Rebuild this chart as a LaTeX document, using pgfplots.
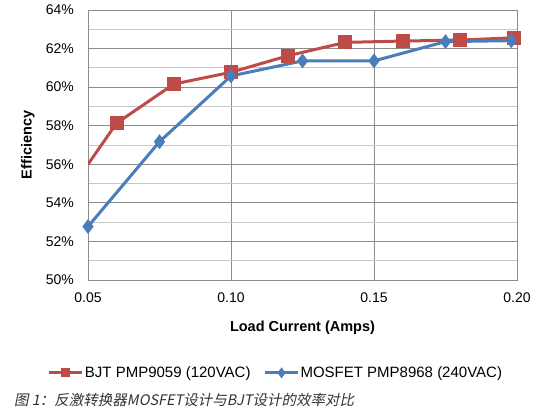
\documentclass[border=0pt]{standalone}
\usepackage{fontspec}
\setmainfont{Liberation Sans}
\newfontfamily\cjk[FakeSlant=0.2]{Noto Sans CJK SC}
\usepackage{pgfplots}
\pgfplotsset{compat=1.18}

\definecolor{bjtred}{HTML}{BE4B48}
\definecolor{mosblue}{HTML}{4A7EBB}
\definecolor{majgrid}{HTML}{8C8C8C}
\definecolor{mingrid}{HTML}{C8C8C8}

\begin{document}
\begin{tikzpicture}
\useasboundingbox (0pt,0pt) rectangle (551pt,409pt);
\begin{axis}[
    at={(88pt,129pt)}, anchor=south west,
    scale only axis, width=429pt, height=270pt,
    /pgf/number format/assume math mode=true,
    xmin=0.05, xmax=0.20, ymin=50, ymax=64,
    xtick={0.05,0.10,0.15,0.20},
    ytick={50,52,...,64},
    minor ytick={51,53,...,63},
    xticklabel={\pgfmathprintnumber[fixed,fixed zerofill,precision=2]{\tick}},
    yticklabel={\pgfmathprintnumber[fixed,precision=0]{\tick}\%},
    major tick length=0pt, minor tick length=0pt,
    tick label style={font=\fontsize{14}{16}\selectfont},
    xticklabel style={inner sep=0pt, anchor=north, yshift=-13pt},
    yticklabel style={inner sep=0pt, anchor=east, xshift=-14pt},
    grid=both,
    major grid style={majgrid, line width=0.8pt},
    minor grid style={mingrid, line width=0.8pt},
    axis line style={majgrid, line width=0.8pt},
    xlabel={\bfseries Load Current (Amps)},
    ylabel={\bfseries Efficiency},
    label style={font=\fontsize{14.5}{16}\selectfont},
    xlabel style={at={(axis description cs:0.5,-0.178)}, anchor=center},
    ylabel style={at={(axis description cs:-0.140,0.5)}, anchor=center},
    legend columns=2,
    legend style={at={(0.437,-0.344)}, anchor=center, draw=none, fill=none,
        font=\fontsize{15}{17}\selectfont,
        nodes={inner sep=1pt},
        /tikz/every even column/.append style={column sep=12pt}},
    legend image code/.code={
        \draw[#1, mark=none] (0pt,0pt) -- (33pt,0pt);
        \draw[#1, mark indices={1}, mark size=3pt]
            plot coordinates {(16.5pt,0pt)};
    },
]
\addplot[bjtred, line width=3pt, mark=square*, mark size=5.5pt,
    mark indices={2,3,4,5,6,7,8,9}, mark options={solid}] coordinates {
    (0.050, 56.00)
    (0.060, 58.13)
    (0.080, 60.16)
    (0.100, 60.77)
    (0.120, 61.63)
    (0.140, 62.32)
    (0.160, 62.39)
    (0.180, 62.44)
    (0.199, 62.56)
};
\addlegendentry{BJT PMP9059 (120VAC)}
\addplot[mosblue, line width=3pt, mark=diamond*, mark size=5pt,
    mark options={solid}] coordinates {
    (0.050, 52.77)
    (0.075, 57.17)
    (0.100, 60.58)
    (0.125, 61.36)
    (0.150, 61.36)
    (0.175, 62.36)
    (0.198, 62.41)
};
\addlegendentry{MOSFET PMP8968 (240VAC)}
\end{axis}
\node[anchor=west, inner sep=0pt, text=black!80] at (14pt,9pt)
    {\cjk\fontsize{14.5}{16}\selectfont 图 1：反激转换器MOSFET设计与BJT设计的效率对比};
\end{tikzpicture}
\end{document}
